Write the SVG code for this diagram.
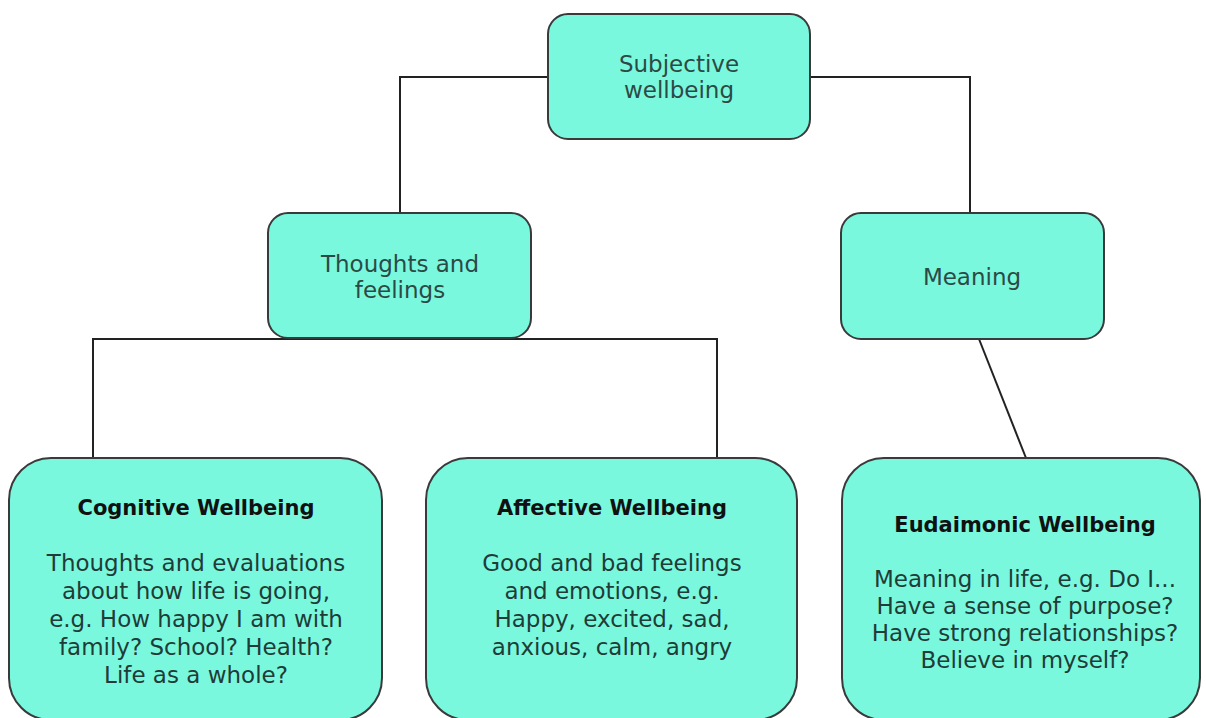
<svg xmlns="http://www.w3.org/2000/svg" width="1206" height="718" viewBox="0 0 1206 718">
<style>
.box{fill:#7af8de;stroke:#3a3a3a;stroke-width:2}
.conn{fill:none;stroke:#222;stroke-width:2}
text{font-family:"DejaVu Sans","Liberation Sans",sans-serif;text-anchor:middle}
.lbl{font-size:23px;fill:#2c4a45}
.ttl{font-size:21px;font-weight:bold;fill:#111}
.body{font-size:23px;fill:#1f3c37}
</style>
<rect width="1206" height="718" fill="#ffffff"/>
<g id="connectors">
<polyline class="conn" points="548,77 400,77 400,213"/>
<polyline class="conn" points="810,77 970,77 970,213"/>
<polyline class="conn" points="93,458 93,339 717,339 717,458"/>
<line class="conn" x1="979" y1="339" x2="1026" y2="458"/>
</g>
<g id="subjective">
<rect class="box" x="548" y="14" width="262" height="125" rx="20"/>
<text class="lbl" x="679" y="72">Subjective</text>
<text class="lbl" x="679" y="98">wellbeing</text>
</g>
<g id="thoughts">
<rect class="box" x="268" y="213" width="263" height="125" rx="20"/>
<text class="lbl" x="400" y="272">Thoughts and</text>
<text class="lbl" x="400" y="298">feelings</text>
</g>
<g id="meaning">
<rect class="box" x="841" y="213" width="263" height="126" rx="20"/>
<text class="lbl" x="972" y="285">Meaning</text>
</g>
<g id="cognitive">
<rect class="box" x="9" y="458" width="373" height="262" rx="42"/>
<text class="ttl" x="196" y="515">Cognitive Wellbeing</text>
<text class="body" x="196" y="571">Thoughts and evaluations</text>
<text class="body" x="196" y="599">about how life is going,</text>
<text class="body" x="196" y="627">e.g. How happy I am with</text>
<text class="body" x="196" y="655">family? School? Health?</text>
<text class="body" x="196" y="683">Life as a whole?</text>
</g>
<g id="affective">
<rect class="box" x="426" y="458" width="371" height="262" rx="42"/>
<text class="ttl" x="612" y="515">Affective Wellbeing</text>
<text class="body" x="612" y="571">Good and bad feelings</text>
<text class="body" x="612" y="599">and emotions, e.g.</text>
<text class="body" x="612" y="627">Happy, excited, sad,</text>
<text class="body" x="612" y="655">anxious, calm, angry</text>
</g>
<g id="eudaimonic">
<rect class="box" x="842" y="458" width="358" height="262" rx="42"/>
<text class="ttl" x="1025" y="532">Eudaimonic Wellbeing</text>
<text class="body" x="1025" y="587">Meaning in life, e.g. Do I...</text>
<text class="body" x="1025" y="614">Have a sense of purpose?</text>
<text class="body" x="1025" y="641">Have strong relationships?</text>
<text class="body" x="1025" y="668">Believe in myself?</text>
</g>
</svg>
